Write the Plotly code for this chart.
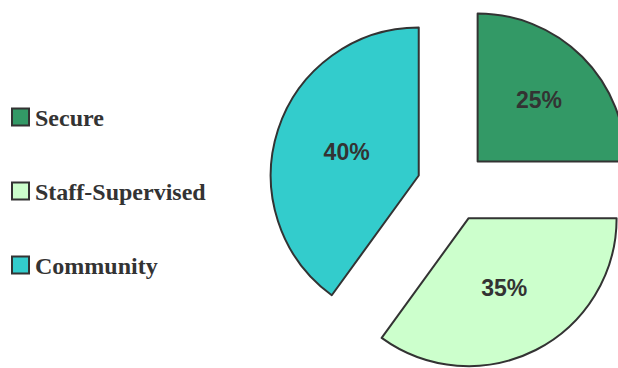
import plotly.graph_objects as go

labels = ["Secure", "Staff-Supervised", "Community"]
values = [25, 35, 40]
colors = ["#339966", "#CCFFCC", "#33CCCC"]

W, H = 636, 370
TOP = 3
fig = go.Figure()
fig.add_trace(go.Pie(
    labels=labels,
    values=values,
    sort=False,
    direction="clockwise",
    rotation=0,
    pull=[0.24] * len(values),
    marker=dict(colors=colors, line=dict(color="#333333", width=2)),
    textinfo="percent",
    textposition="inside",
    insidetextorientation="horizontal",
    textfont=dict(family="Liberation Sans", size=23, color="#333333", weight="bold"),
    domain=dict(x=[0.4230, 1.0], y=[0.0, 1.0]),
    showlegend=False,
    hoverinfo="label+percent",
))

# legend drawn as shapes + text (paper coords over full figure height)
ph = H - TOP
leg_y = [117, 191, 265]  # pixel centers
for lab, col, yc in zip(labels, colors, leg_y):
    fig.add_shape(type="rect", xref="paper", yref="paper",
                  x0=12 / W, x1=29 / W,
                  y0=1 - (yc - 8.5 - TOP) / ph, y1=1 - (yc + 8.5 - TOP) / ph,
                  fillcolor=col, line=dict(color="#333333", width=2))
    fig.add_annotation(xref="paper", yref="paper", x=33 / W, y=1 - (yc + 1 - TOP) / ph,
                       xanchor="left", yanchor="middle", showarrow=False,
                       text=f"<b>{lab}</b>",
                       font=dict(family="Liberation Serif", size=24, color="#333333"))

fig.update_layout(
    width=W, height=H,
    margin=dict(l=0, r=0, t=TOP, b=0),
    paper_bgcolor="white",
    plot_bgcolor="white",
)

fig.write_html("out.html",
               post_script="document.documentElement.style.overflow='hidden';document.body.style.overflow='hidden';document.body.style.margin='0';")
